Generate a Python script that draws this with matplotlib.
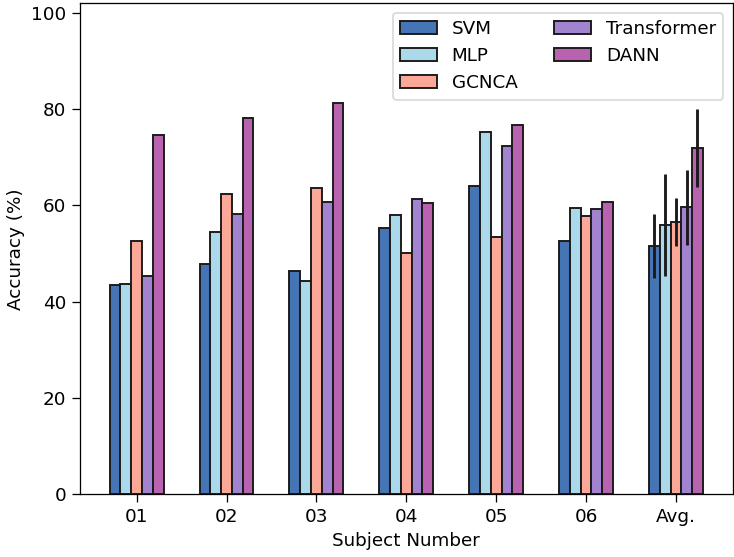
import numpy as np
import matplotlib
matplotlib.use("Agg")
import matplotlib.pyplot as plt

# Values
subjects = ["01", "02", "03", "04", "05", "06", "Avg."]
methods = ["SVM", "MLP", "GCNCA", "Transformer", "DANN"]
colors = ["#4575b4", "#abd9ec", "#fba898", "#a283d0", "#b962b0"]

svm = [43.5, 47.9, 46.3, 55.3, 64.0, 52.7, 51.6]
mlp = [43.7, 54.4, 44.2, 58.1, 75.2, 59.5, 55.9]
gcnca = [52.6, 62.3, 63.7, 50.1, 53.5, 57.7, 56.6]
transformer = [45.4, 58.2, 60.7, 61.4, 72.3, 59.3, 59.6]
dann = [74.6, 78.1, 81.2, 60.5, 76.7, 60.8, 72.0]

# std only on the Avg. group
svm_err = [0, 0, 0, 0, 0, 0, 6.7]
mlp_err = [0, 0, 0, 0, 0, 0, 10.6]
gcnca_err = [0, 0, 0, 0, 0, 0, 5.0]
transformer_err = [0, 0, 0, 0, 0, 0, 7.8]
dann_err = [0, 0, 0, 0, 0, 0, 8.1]

series = [svm, mlp, gcnca, transformer, dann]
errors = [svm_err, mlp_err, gcnca_err, transformer_err, dann_err]

plt.rcParams["font.size"] = 11.5

fig = plt.figure(figsize=(734 / 115, 557 / 115), dpi=115)
ax = fig.add_axes([0.109, 0.113, 0.889, 0.881])

x = np.arange(len(subjects))
width = 0.12
for i, (vals, errs) in enumerate(zip(series, errors)):
    pos = x + (i - 2) * width
    ax.bar(pos, vals, width, color=colors[i], edgecolor="#1a1a1a",
           linewidth=1.2, label=methods[i])
    # error bar only for the average
    ax.errorbar(pos[-1], vals[-1], yerr=errs[-1], fmt="none",
                ecolor="#1a1a1a", elinewidth=1.8, capsize=0)

ax.set_xticks(x)
ax.set_xticklabels(subjects)
ax.set_ylim(0, 102)
ax.set_yticks([0, 20, 40, 60, 80, 100])
ax.tick_params(length=5)
ax.set_xlabel("Subject Number")
ax.set_ylabel("Accuracy (%)")
ax.legend(loc="upper right", ncol=2)

fig.savefig("out.png", dpi=115)
